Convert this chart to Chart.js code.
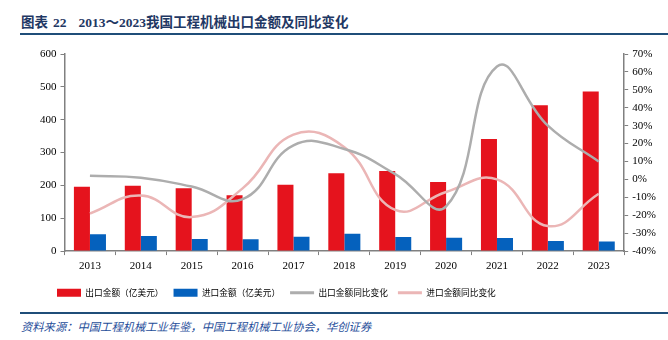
<!DOCTYPE html>
<html>
<head>
<meta charset="utf-8">
<script src="https://cdn.jsdelivr.net/npm/chart.js@4"></script>
<style>
  body { margin: 0; background: #fff; width: 668px; height: 340px; position: relative; overflow: hidden; }
  .title { position: absolute; left: 21px; top: 11px; font-size: 13.5px; font-weight: bold; color: #1f3864;
           font-family: "Liberation Serif", "Noto Sans CJK SC", serif; white-space: nowrap; }
  .title .num { margin-left: 5px; margin-right: 12px; }
  .rule { position: absolute; left: 20px; width: 648px; height: 2px; background: #1f4e79; }
  .chart-box { position: absolute; left: 0; top: 40px; width: 668px; height: 265px; }
  .source { position: absolute; left: 21px; top: 318px; font-size: 11.3px; font-style: italic; color: #1f4e9a;
            font-family: "Noto Sans CJK SC", sans-serif; white-space: nowrap; }
</style>
</head>
<body>
<div class="title">图表<span class="num">22</span>2013～2023我国工程机械出口金额及同比变化</div>
<div class="rule" style="top:33px"></div>
<div class="chart-box"><canvas id="chart"></canvas></div>
<div class="rule" style="top:312px"></div>
<div class="source">资料来源：中国工程机械工业年鉴，中国工程机械工业协会，华创证券</div>

<script>
// Data
const years = ['2013', '2014', '2015', '2016', '2017', '2018', '2019', '2020', '2021', '2022', '2023'];
const exportValue = [196, 199, 191, 170, 202, 237, 244, 210, 341, 444, 486];   // 亿美元
const importValue = [51, 46, 37, 36, 44, 53, 43, 41, 40, 31, 29];              // 亿美元
const exportYoY = [2, 1, -4, -11, 19, 17, 3, -15, 63, 30, 10];                  // %
const importYoY = [-19, -9, -21, -5, 25, 18, -17, -7, 0, -26, -8];              // %

const seriesNames = ['出口金额（亿美元）', '进口金额（亿美元）', '出口金额同比变化', '进口金额同比变化'];
const seriesColors = ['#e5131d', '#0561bd', '#adadad', '#ebb6b6'];

const axisColor = '#808080';
const tickFont = { family: 'Liberation Serif', size: 11 };

// move the legend block to the left, like the original layout
const legendShift = {
  id: 'legendShift',
  afterLayout(chart) {
    if (chart.legend) {
      chart.legend.left = 47;
      chart.legend.top += 2;
    }
  }
};

const ctx = document.getElementById('chart').getContext('2d');
new Chart(ctx, {
  type: 'bar',
  data: {
    labels: years,
    datasets: [
      {
        label: seriesNames[0],
        data: exportValue,
        backgroundColor: seriesColors[0],
        yAxisID: 'y',
        order: 1,
        categoryPercentage: 0.63,
        barPercentage: 1.0
      },
      {
        label: seriesNames[1],
        data: importValue,
        backgroundColor: seriesColors[1],
        yAxisID: 'y',
        order: 1,
        categoryPercentage: 0.63,
        barPercentage: 1.0
      },
      {
        type: 'line',
        label: seriesNames[2],
        data: exportYoY,
        borderColor: seriesColors[2],
        backgroundColor: seriesColors[2],
        borderWidth: 2.5,
        pointRadius: 0,
        tension: 0.45,
        yAxisID: 'y1',
        order: 0
      },
      {
        type: 'line',
        label: seriesNames[3],
        data: importYoY,
        borderColor: seriesColors[3],
        backgroundColor: seriesColors[3],
        borderWidth: 2.5,
        pointRadius: 0,
        tension: 0.45,
        yAxisID: 'y1',
        order: 0
      }
    ]
  },
  options: {
    responsive: true,
    maintainAspectRatio: false,
    animation: false,
    layout: { padding: { left: 36, right: 8, top: 14, bottom: 0 } },
    plugins: {
      tooltip: { enabled: false },
      legend: {
        position: 'bottom',
        align: 'start',
        labels: {
          usePointStyle: true,
          pointStyleWidth: 24,
          boxHeight: 8,
          padding: 10,
          color: '#000',
          font: { family: 'Noto Sans CJK SC', size: 8.7 },
          generateLabels(chart) {
            const items = Chart.defaults.plugins.legend.labels.generateLabels(chart);
            items.sort((a, b) => a.datasetIndex - b.datasetIndex);
            items.forEach(it => {
              const i = it.datasetIndex;
              it.text = seriesNames[i];
              it.fillStyle = seriesColors[i];
              if (i < 2) {
                it.pointStyle = 'rect';
                it.lineWidth = 0;
              } else {
                it.pointStyle = 'line';
                it.lineWidth = 3;
                it.strokeStyle = seriesColors[i];
              }
            });
            return items;
          }
        }
      }
    },
    scales: {
      x: {
        grid: { display: true, drawOnChartArea: false, drawTicks: true, tickLength: 4, color: axisColor, offset: true },
        border: { display: true, color: axisColor, width: 1.5 },
        ticks: { color: '#000', font: tickFont, padding: 4, maxRotation: 0 }
      },
      y: {
        position: 'left',
        min: 0,
        max: 600,
        grid: { display: true, drawOnChartArea: false, drawTicks: true, tickLength: 4, color: axisColor },
        border: { display: true, color: axisColor, width: 1.5 },
        ticks: { stepSize: 100, color: '#000', font: tickFont, padding: 4 }
      },
      y1: {
        position: 'right',
        min: -40,
        max: 70,
        grid: { display: true, drawOnChartArea: false, drawTicks: true, tickLength: 4, color: axisColor },
        border: { display: true, color: axisColor, width: 1.5 },
        ticks: { stepSize: 10, color: '#000', font: tickFont, padding: 4, callback: v => v + '%' }
      }
    }
  },
  plugins: [legendShift]
});
</script>
</body>
</html>
